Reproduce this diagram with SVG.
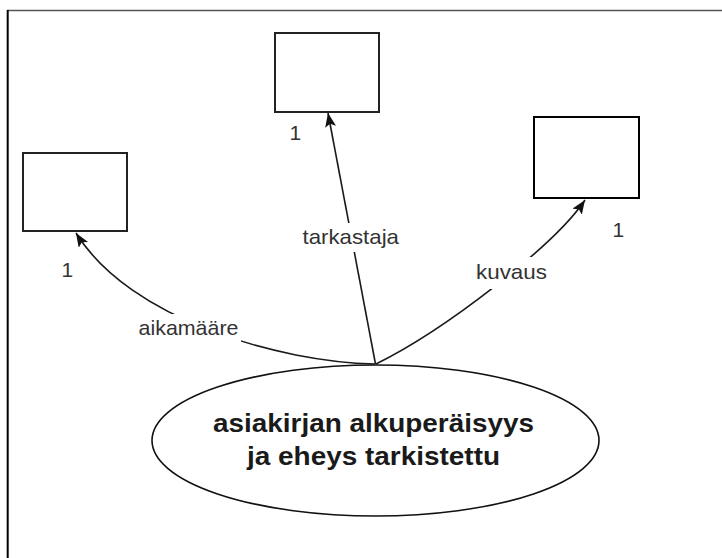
<svg xmlns="http://www.w3.org/2000/svg" width="722" height="558" viewBox="0 0 722 558">
  <style>
    .box { fill: #ffffff; stroke: #222222; stroke-width: 2; }
    .conn { fill: none; stroke: #1a1a1a; stroke-width: 1.6; }
    .lbl { font-family: "Liberation Sans", Arial, sans-serif; font-size: 21px; fill: #333333; }
    .lblbg { fill: #ffffff; stroke: none; }
    .main { font-family: "Liberation Sans", Arial, sans-serif; font-size: 25px; font-weight: bold; fill: #1a1a1a; }
  </style>
  <defs>
    <marker id="arrow" markerUnits="userSpaceOnUse" markerWidth="16" markerHeight="12" refX="14" refY="5.5" orient="auto">
      <path d="M0,0 L14,5.5 L0,11 L3,5.5 z" fill="#111111"/>
    </marker>
  </defs>
  <rect x="0" y="0" width="722" height="558" fill="#ffffff"/>
  <g id="frame">
    <line x1="7" y1="10.5" x2="722" y2="10.5" stroke="#555555" stroke-width="1.5"/>
    <line x1="7.7" y1="10" x2="7.7" y2="558" stroke="#000000" stroke-width="2"/>
  </g>
  <g id="connectors">
    <path class="conn" d="M375,364 C280,362 130,320 76,233" marker-end="url(#arrow)"/>
    <path class="conn" d="M375.5,364 L328,113" marker-end="url(#arrow)"/>
    <path class="conn" d="M376,364 C445,330 555,245 585,200" marker-end="url(#arrow)"/>
  </g>
  <g id="labels">
    <rect class="lblbg" x="136" y="314" width="105" height="29"/>
    <text class="lbl" x="138.5" y="335" textLength="100" lengthAdjust="spacingAndGlyphs">aikamääre</text>
    <rect class="lblbg" x="300" y="223" width="101" height="29"/>
    <text class="lbl" x="302.5" y="243.5" textLength="96.5" lengthAdjust="spacingAndGlyphs">tarkastaja</text>
    <rect class="lblbg" x="474" y="257" width="75" height="32"/>
    <text class="lbl" x="476" y="278.5" textLength="71" lengthAdjust="spacingAndGlyphs">kuvaus</text>
    <text class="lbl" x="61.5" y="277">1</text>
    <text class="lbl" x="289.5" y="140">1</text>
    <text class="lbl" x="612.5" y="236.5">1</text>
  </g>
  <g id="node-left">
    <rect class="box" x="23" y="153" width="104" height="78"/>
  </g>
  <g id="node-top">
    <rect class="box" x="275" y="33" width="104" height="79"/>
  </g>
  <g id="node-right">
    <rect class="box" x="534" y="117" width="105" height="81" style="stroke:#000000"/>
  </g>
  <g id="node-main">
    <ellipse cx="375.5" cy="440.5" rx="223.5" ry="75.5" fill="#ffffff" stroke="#111111" stroke-width="1.6"/>
    <text class="main" x="373.5" y="432" text-anchor="middle" textLength="321" lengthAdjust="spacingAndGlyphs">asiakirjan alkuperäisyys</text>
    <text class="main" x="373.5" y="465" text-anchor="middle" textLength="253" lengthAdjust="spacingAndGlyphs">ja eheys tarkistettu</text>
  </g>
</svg>
